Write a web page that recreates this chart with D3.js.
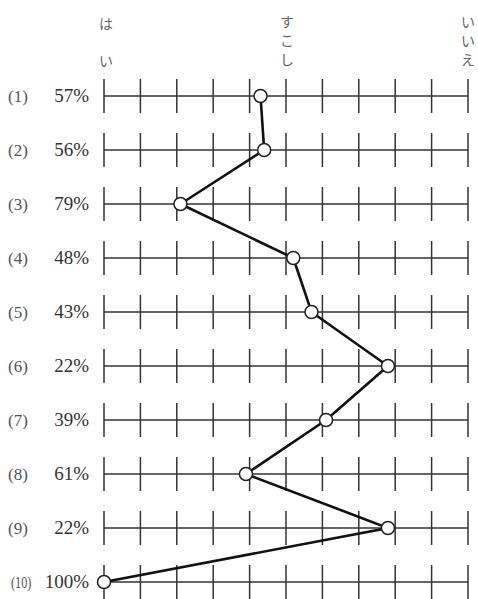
<!DOCTYPE html>
<html>
<head>
<meta charset="utf-8">
<script src="https://cdn.jsdelivr.net/npm/d3@7"></script>
<style>
  body { margin: 0; background: #fff; }
</style>
</head>
<body>
<div id="chart-area"></div>
<script>
// items (1)..(10) and the percentage answered "はい"
let items = ["(1)", "(2)", "(3)", "(4)", "(5)", "(6)", "(7)", "(8)", "(9)", "(10)"];
let percents = [57, 56, 79, 48, 43, 22, 39, 61, 22, 100];
let tickValues = [100, 90, 80, 70, 60, 50, 40, 30, 20, 10, 0];
let scaleLabels = [
    {text: ["は", "い"], value: 100},
    {text: ["す", "こ", "し"], value: 50},
    {text: ["い", "い", "え"], value: 0}
];

let width = 478, height = 599;

let svg = d3.select("#chart-area")
    .append("svg")
    .attr("width", width)
    .attr("height", height);

// X Scale: はい (100%) on the left, いいえ (0%) on the right
let x = d3.scaleLinear().domain([100, 0]).range([104, 468]);

// Y Scale
let y = d3.scalePoint().domain(items).range([96, 582]);

let rows = svg.append("g").selectAll("g.row")
    .data(items)
    .enter().append("g")
    .attr("class", "row")
    .attr("transform", d => `translate(0,${y(d)})`);

rows.append("line")
    .attr("x1", x(100))
    .attr("x2", x(0))
    .attr("stroke", "#333")
    .attr("stroke-width", 1.3);

rows.selectAll("line.tick")
    .data(tickValues)
    .enter().append("line")
    .attr("class", "tick")
    .attr("x1", d => x(d))
    .attr("x2", d => x(d))
    .attr("y1", -17)
    .attr("y2", 17)
    .attr("stroke", "#333")
    .attr("stroke-width", 1.5);

// row labels, (10) squeezed like the printed one
rows.append("text")
    .attr("transform", d => d === "(10)" ? "translate(11,6) scale(0.72,1)" : "translate(8,6)")
    .attr("font-family", "Liberation Serif, DejaVu Serif, serif")
    .attr("font-size", 17)
    .attr("fill", "#555")
    .text(d => d);

rows.append("text")
    .attr("x", 89)
    .attr("y", 6)
    .attr("text-anchor", "end")
    .attr("font-family", "Liberation Serif, DejaVu Serif, serif")
    .attr("font-size", 19)
    .attr("fill", "#333")
    .text((d, i) => percents[i] + "%");

// vertical scale labels
let labelGroups = svg.append("g").selectAll("text")
    .data(scaleLabels)
    .enter().append("text")
    .attr("font-family", "Noto Sans CJK JP, sans-serif")
    .attr("font-size", 14)
    .attr("fill", "#666")
    .attr("text-anchor", "middle");

labelGroups.selectAll("tspan")
    .data(d => d.text.map((c, i) => ({c: c, i: i, n: d.text.length, v: d.value})))
    .enter().append("tspan")
    .attr("x", d => x(d.v) + (d.v === 100 ? 2 : d.v === 50 ? 1 : 0))
    .attr("y", d => d.n === 2 ? 29 + d.i * 37 : 27 + d.i * 19)
    .text(d => d.c);

// connecting line
let points = items.map((d, i) => [x(percents[i]), y(d)]);

svg.append("path")
    .attr("d", d3.line()(points))
    .attr("fill", "none")
    .attr("stroke", "#111")
    .attr("stroke-width", 2.6);

svg.selectAll("circle")
    .data(points)
    .enter().append("circle")
    .attr("cx", d => d[0])
    .attr("cy", d => d[1])
    .attr("r", 6.5)
    .attr("fill", "#fff")
    .attr("stroke", "#222")
    .attr("stroke-width", 1.5);
</script>
</body>
</html>
